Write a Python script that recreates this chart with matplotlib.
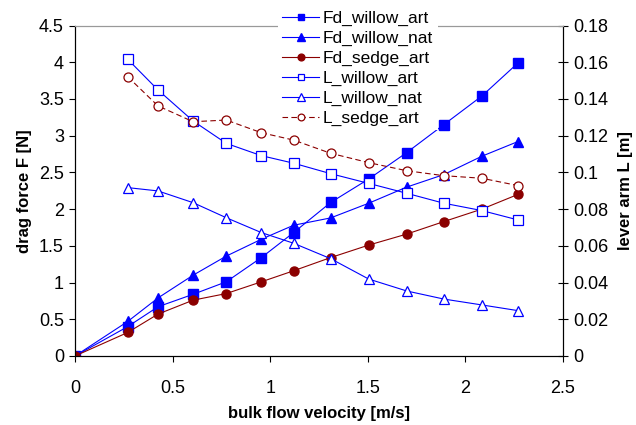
import matplotlib.pyplot as plt

plt.rcParams["font.family"] = ["Liberation Sans", "DejaVu Sans"]

# velocities
v = [0, 0.27, 0.425, 0.605, 0.775, 0.955, 1.12, 1.31, 1.505, 1.70, 1.89, 2.085, 2.27]

# drag force [N]
fd_willow_art = [0, 0.40, 0.67, 0.84, 1.01, 1.34, 1.68, 2.09, 2.41, 2.77, 3.15, 3.54, 3.99]
fd_willow_nat = [0, 0.47, 0.79, 1.10, 1.36, 1.59, 1.78, 1.88, 2.08, 2.30, 2.47, 2.72, 2.92]
fd_sedge_art = [0, 0.32, 0.57, 0.76, 0.85, 1.01, 1.16, 1.34, 1.51, 1.66, 1.83, 2.00, 2.20]

# lever arm [m] (no value at v=0)
v_L = v[1:]
L_willow_art = [0.1616, 0.1449, 0.128, 0.1158, 0.1091, 0.105, 0.0993, 0.094, 0.0886, 0.0832, 0.0792, 0.0741]
L_willow_nat = [0.0917, 0.0899, 0.0835, 0.0753, 0.0672, 0.0614, 0.053, 0.0419, 0.0354, 0.031, 0.0278, 0.0247]
L_sedge_art = [0.1521, 0.1362, 0.1276, 0.1285, 0.1216, 0.1176, 0.1104, 0.1053, 0.1009, 0.0982, 0.0968, 0.0928]

blue = "#0000FF"
red = "#8B0000"

fig = plt.figure(figsize=(6.36, 4.25), dpi=100)
ax = fig.add_axes([0.118, 0.1624, 0.767, 0.7776])
ax2 = ax.twinx()

ms = 6.5
lw = 0.8
l1, = ax.plot(v, fd_willow_art, color=blue, marker="s", ms=ms, lw=lw, label="Fd_willow_art")
l2, = ax.plot(v, fd_willow_nat, color=blue, marker="^", ms=ms + 0.5, lw=lw, label="Fd_willow_nat")
l3, = ax.plot(v, fd_sedge_art, color=red, marker="o", ms=ms, lw=lw, label="Fd_sedge_art")
l4, = ax2.plot(v_L, L_willow_art, color=blue, marker="s", ms=ms, lw=lw, mfc="white", mew=0.9,
               label="L_willow_art")
l5, = ax2.plot(v_L, L_willow_nat, color=blue, marker="^", ms=ms + 0.5, lw=lw, mfc="white", mew=0.9,
               label="L_willow_nat")
l6, = ax2.plot(v_L, L_sedge_art, color=red, marker="o", ms=ms, lw=lw, mfc="white", mew=0.9,
               ls=(0, (5, 3)), label="L_sedge_art")

ax.set_xlim(0, 2.5)
ax.set_ylim(0, 4.5)
ax2.set_ylim(0, 0.18)
ax.set_xticks([0, 0.5, 1, 1.5, 2, 2.5])
ax.set_xticklabels(["0", "0.5", "1", "1.5", "2", "2.5"])
ax.set_yticks([0, 0.5, 1, 1.5, 2, 2.5, 3, 3.5, 4, 4.5])
ax.set_yticklabels(["0", "0.5", "1", "1.5", "2", "2.5", "3", "3.5", "4", "4.5"])
ax2.set_yticks([0, 0.02, 0.04, 0.06, 0.08, 0.1, 0.12, 0.14, 0.16, 0.18])
ax2.set_yticklabels(["0", "0.02", "0.04", "0.06", "0.08", "0.1", "0.12", "0.14", "0.16", "0.18"])

ax.tick_params(axis="both", direction="out", length=4, width=0.8, labelsize=13, pad=4)
ax.tick_params(axis="x", pad=13)
ax2.tick_params(axis="y", direction="inout", length=7, width=0.8, labelsize=13, pad=4)

for a in (ax, ax2):
    a.spines["top"].set_color("#999999")
    a.spines["top"].set_linewidth(0.8)
    for s in ("left", "right", "bottom"):
        a.spines[s].set_linewidth(0.8)

ax.set_xlabel("bulk flow velocity [m/s]", fontsize=12, fontweight="bold", labelpad=7)
ax.set_ylabel("drag force F [N]", fontsize=12, fontweight="bold", labelpad=5)
ax2.set_ylabel("lever arm L [m]", fontsize=12, fontweight="bold", labelpad=7)

leg = ax2.legend(handles=[l1, l2, l3, l4, l5, l6], loc="upper left",
                 bbox_to_anchor=(0.437, 0.985), bbox_transform=fig.transFigure,
                 fontsize=12.5, frameon=True, fancybox=False, edgecolor="none",
                 facecolor="white", framealpha=1, handlelength=2.1, handletextpad=0.25,
                 labelspacing=0.27, borderpad=0.25, borderaxespad=0, markerscale=0.75)
leg.set_zorder(10)

fig.savefig("out.png", dpi=100)
